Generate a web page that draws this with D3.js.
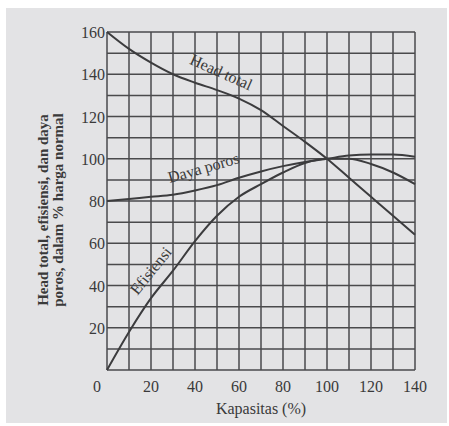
<!DOCTYPE html>
<html>
<head>
<meta charset="utf-8">
<script src="https://cdn.jsdelivr.net/npm/d3@7"></script>
<style>
  body { margin: 0; background: #fff; }
  svg { display: block; }
  text { font-family: "Liberation Serif", "DejaVu Serif", serif; fill: #3a3a3a; }
</style>
</head>
<body>
<svg width="449" height="426"></svg>
<script>
// data (values in % of normal)
const kapasitas = [0, 10, 20, 30, 40, 50, 60, 70, 80, 90, 100, 110, 120, 130, 140];
const headTotal = [160, 152, 145.5, 140, 136, 132.5, 128.5, 123, 115.5, 108, 100, 91, 82, 73, 64];
const dayaPoros = [80, 81, 82, 83, 85, 87.5, 91, 94, 96.5, 98.5, 100, 101.5, 102, 102, 101];
const efisiensi = [0, 18, 34, 47, 61, 73, 82, 88, 93.5, 98, 100, 100, 97.5, 93.5, 88];
const xTicks = [0, 20, 40, 60, 80, 100, 120, 140];
const yTicks = [20, 40, 60, 80, 100, 120, 140, 160];

const svg = d3.select("svg");
svg.append("rect").attr("x", 6).attr("y", 8).attr("width", 441).attr("height", 415)
  .attr("fill", "#e3e3e5");

const pl = 107, pr = 415, pt = 32, pb = 370;
const x = d3.scaleLinear().domain([0, 140]).range([pl, pr]);
const y = d3.scaleLinear().domain([0, 160]).range([pb, pt]);

const g = svg.append("g");

// grid every 10%
g.selectAll(".vg").data(d3.range(0, 141, 10)).enter().append("line")
  .attr("x1", d => x(d)).attr("x2", d => x(d))
  .attr("y1", pt).attr("y2", pb)
  .attr("stroke", "#4a4a4c").attr("stroke-width", 1.5);
g.selectAll(".hg").data(d3.range(0, 161, 10)).enter().append("line")
  .attr("y1", d => y(d)).attr("y2", d => y(d))
  .attr("x1", pl).attr("x2", pr)
  .attr("stroke", "#4a4a4c").attr("stroke-width", 1.5);

// tick labels
g.selectAll(".xt").data(xTicks).enter().append("text")
  .attr("x", d => x(d) + (d === 0 ? -10 : 0))
  .attr("y", pb + 22)
  .attr("text-anchor", "middle")
  .attr("font-size", 16)
  .text(d => d);
g.selectAll(".yt").data(yTicks).enter().append("text")
  .attr("x", pl - 2)
  .attr("y", d => y(d) + 6)
  .attr("text-anchor", "end")
  .attr("font-size", 16)
  .text(d => d);

// curves
const line = d3.line().x((d, i) => x(kapasitas[i])).y(d => y(d)).curve(d3.curveMonotoneX);
[headTotal, dayaPoros, efisiensi].forEach(s => {
  g.append("path").attr("d", line(s))
    .attr("fill", "none").attr("stroke", "#3c3c3e").attr("stroke-width", 2);
});

// curve labels
const labels = [
  { t: "Head total", x: 219, y: 77, a: 24 },
  { t: "Daya poros", x: 205, y: 173, a: -16 },
  { t: "Efisiensi", x: 155, y: 274, a: -51 }
];
g.selectAll(".cl").data(labels).enter().append("text")
  .attr("transform", d => `translate(${d.x},${d.y}) rotate(${d.a})`)
  .attr("text-anchor", "middle")
  .attr("font-size", 16)
  .text(d => d.t);

// axis titles
svg.append("text")
  .attr("x", x(70)).attr("y", 414)
  .attr("text-anchor", "middle").attr("font-size", 16)
  .text("Kapasitas (%)");
const yt = svg.append("text")
  .attr("transform", "translate(48,210) rotate(-90)")
  .attr("text-anchor", "middle").attr("font-size", 15).attr("font-weight", "bold");
yt.append("tspan").attr("x", 0).attr("dy", 0).text("Head total, efisiensi, dan daya");
yt.append("tspan").attr("x", 0).attr("dy", 15).text("poros, dalam % harga normal");
</script>
</body>
</html>
